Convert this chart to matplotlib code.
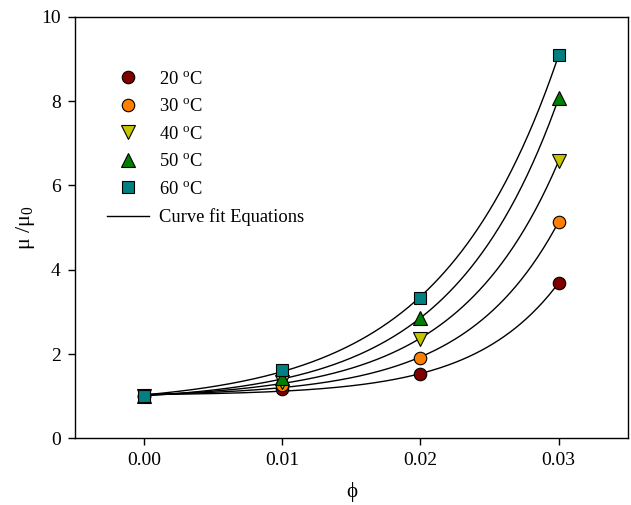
import numpy as np
import matplotlib
matplotlib.use("Agg")
import matplotlib.pyplot as plt
from matplotlib.lines import Line2D

plt.rcParams["font.family"] = ["Liberation Serif", "DejaVu Serif"]
plt.rcParams["mathtext.fontset"] = "custom"
plt.rcParams["mathtext.rm"] = "Liberation Serif"
plt.rcParams["mathtext.it"] = "Liberation Serif:italic"

# Volume fraction and relative viscosity at each temperature
phi = [0.00, 0.01, 0.02, 0.03]
temps = ["20", "30", "40", "50", "60"]
visc_20 = [1.00, 1.17, 1.52, 3.69]
visc_30 = [1.00, 1.26, 1.91, 5.14]
visc_40 = [1.00, 1.34, 2.36, 6.58]
visc_50 = [1.00, 1.42, 2.85, 8.07]
visc_60 = [1.00, 1.63, 3.34, 9.09]
series = [visc_20, visc_30, visc_40, visc_50, visc_60]

markers = ["o", "o", "v", "^", "s"]
colors = ["#800000", "#FF8000", "#C4C400", "#008000", "#008080"]
sizes = [9, 9, 9.5, 9.5, 8]


def exp_fit(x, y):
    """Least-squares fit of y = y0 + a*exp(b*x); returns a callable."""
    x = np.asarray(x, float)
    y = np.asarray(y, float)
    best = None
    for b in np.linspace(1, 400, 4000):
        A = np.column_stack([np.ones_like(x), np.exp(b * x)])
        coef, *_ = np.linalg.lstsq(A, y, rcond=None)
        r = np.sum((A @ coef - y) ** 2)
        if best is None or r < best[0]:
            best = (r, coef, b)
    _, (y0, a), b = best
    return lambda t: y0 + a * np.exp(b * t)


fig = plt.figure(figsize=(6.31, 5.05), dpi=100)
ax = fig.add_axes([0.1184, 0.132, 0.8766, 0.835])

xs = np.linspace(0, 0.03, 300)
for vals in series:
    f = exp_fit(phi, vals)
    ax.plot(xs, f(xs), color="black", lw=1.0, zorder=2)

handles = []
for vals, t, m, c, s in zip(series, temps, markers, colors, sizes):
    ax.plot(phi, vals, linestyle="none", marker=m, ms=s, mfc=c,
            mec="black", mew=0.8, zorder=3)
    handles.append(Line2D([], [], linestyle="none", marker=m, ms=s, mfc=c,
                          mec="black", mew=0.8,
                          label=t + r" $^{\mathrm{o}}$C"))
handles.append(Line2D([], [], color="black", lw=1.0,
                      label="Curve fit Equations"))

ax.legend(handles=handles, loc="upper left", frameon=False, fontsize=13.3,
          bbox_to_anchor=(0.058, 0.872), handlelength=2.3, handletextpad=0.55,
          labelspacing=0.57, borderaxespad=0, borderpad=0)

ax.set_xlim(-0.005, 0.035)
ax.set_ylim(0, 10)
ax.set_xticks([0.00, 0.01, 0.02, 0.03])
ax.set_xticklabels(["0.00", "0.01", "0.02", "0.03"])
ax.set_yticks([0, 2, 4, 6, 8, 10])
ax.tick_params(direction="out", length=5, width=1, labelsize=14,
               top=False, right=False, pad=5)
for sp in ax.spines.values():
    sp.set_linewidth(1.0)

ax.set_xlabel("ϕ", fontsize=15, labelpad=9)
ax.set_ylabel(r"μ /μ$_{\mathrm{0}}$", fontsize=16, labelpad=3)

fig.savefig("out.png", dpi=100)
